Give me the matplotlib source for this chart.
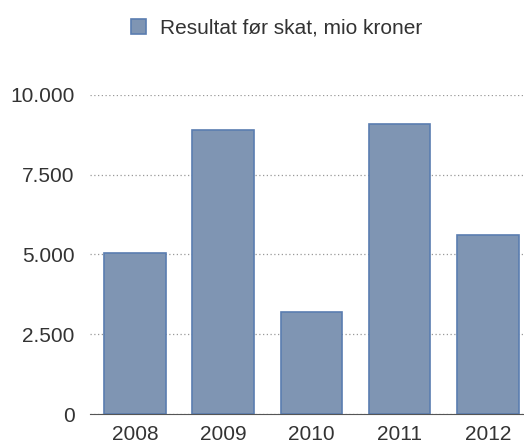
import matplotlib
matplotlib.use("Agg")
from matplotlib import pyplot as plt
from matplotlib.ticker import FuncFormatter

plt.rcParams["font.family"] = ["Liberation Sans", "DejaVu Sans"]

years = ["2008", "2009", "2010", "2011", "2012"]
result = [5050, 8900, 3200, 9100, 5620]
label = "Resultat før skat, mio kroner"
y_ticks = [0, 2500, 5000, 7500, 10000]

fig = plt.figure(figsize=(5.24, 4.45), dpi=100)
ax = fig.add_axes([90 / 524, 31 / 445, 1 - 90 / 524, (414 - 95) / 445 * 1.0])

x = range(len(years))
ax.bar(x, result, width=0.7, color="#7f95b3", edgecolor="#5a7db0",
       linewidth=1.2, label=label, zorder=2)

ax.set_xlim(-0.51, 4.41)
ax.set_ylim(0, 10000)
ax.set_yticks(y_ticks)
ax.yaxis.set_major_formatter(FuncFormatter(lambda v, p: f"{int(v):,}".replace(",", ".")))
ax.set_xticks(list(x))
ax.set_xticklabels(years)
ax.tick_params(axis="both", length=0, labelsize=15, colors="#333333")
ax.tick_params(axis="y", pad=11)
ax.tick_params(axis="x", pad=8)

ax.grid(axis="y", linestyle=(0, (1, 2)), color="#999999", linewidth=0.9, zorder=1)
for s in ["top", "right", "left"]:
    ax.spines[s].set_visible(False)
ax.spines["bottom"].set_color("#555555")
ax.spines["bottom"].set_zorder(3)

fig.legend(loc="upper center", bbox_to_anchor=(0.528, 1.0), frameon=False,
           fontsize=15, handlelength=0.7, handleheight=0.7, handletextpad=0.7,
           labelcolor="#333333")

fig.savefig("out.png", dpi=100)
